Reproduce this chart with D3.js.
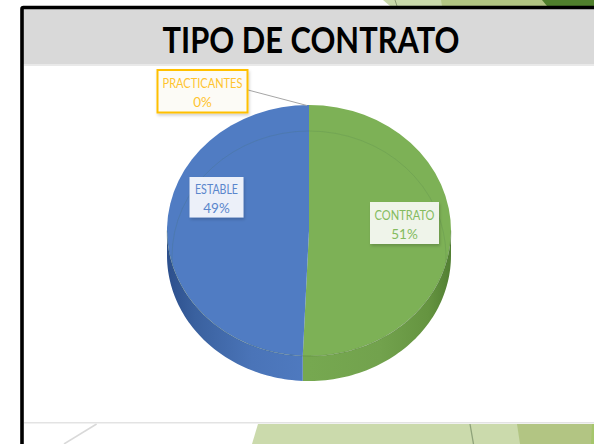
<!DOCTYPE html>
<html>
<head>
<meta charset="utf-8">
<script src="https://cdn.jsdelivr.net/npm/d3@7"></script>
<style>
  html, body { margin: 0; padding: 0; background: #fff; }
  svg { display: block; }
  text { font-family: Lato, "Open Sans", sans-serif; }
</style>
</head>
<body>
<svg id="chart"></svg>
<script>
// values
const categories = ["CONTRATO", "ESTABLE", "PRACTICANTES"];
const shares = [50.7, 49.3, 0];
const chartTitle = "TIPO DE CONTRATO";

const width = 594, height = 444;
const cx = 309, cy = 230.5, rx = 142, ry = 125.5, depth = 25;

const faceColor = d3.scaleOrdinal(categories, ["#7db156", "#507cc3", "#ffc000"]);
const textColor = d3.scaleOrdinal(categories, ["#84bb5e", "#5a86cc", "#ffc42e"]);

let svg = d3.select("#chart").attr("width", width).attr("height", height);
let defs = svg.append("defs");

let shadow = defs.append("filter").attr("id", "boxShadow")
    .attr("x", "-20%").attr("y", "-20%").attr("width", "140%").attr("height", "150%");
shadow.append("feDropShadow").attr("dx", 1).attr("dy", 2).attr("stdDeviation", 1.5)
    .attr("flood-color", "#000").attr("flood-opacity", 0.18);

function sideGradient(id, stops) {
    let g = defs.append("linearGradient").attr("id", id)
        .attr("gradientUnits", "userSpaceOnUse")
        .attr("x1", cx - rx).attr("x2", cx + rx).attr("y1", 0).attr("y2", 0);
    stops.forEach(s => g.append("stop").attr("offset", s[0]).attr("stop-color", s[1]));
}
sideGradient("sideBlue", [[0, "#2c4f8c"], [0.1, "#3a619f"], [0.3, "#4a74b8"], [0.5, "#4f7ac0"]]);
sideGradient("sideGreen", [[0.5, "#76a850"], [0.75, "#72a24d"], [0.92, "#659440"], [1, "#527f33"]]);
const sideFill = { CONTRATO: "url(#sideGreen)", ESTABLE: "url(#sideBlue)", PRACTICANTES: "#d9a300" };

// slide background showing around the chart
const topDeco = [
    { pts: "383,0 390,6 594,6 594,0", fill: "#c9d9ab" },
    { pts: "441,0 442,6 594,6 594,0", fill: "#b2c583" },
    { pts: "542,0 547,6 594,6 594,0", fill: "#4f7f2c" }
];
const bottomDeco = [
    { pts: "258,424 252,444 594,444 594,424", fill: "#cbdaac" },
    { pts: "517,424 520,444 594,444 594,424", fill: "#b2c583" },
    { pts: "592,424 591,444 594,444 594,424", fill: "#a5c66b" }
];
svg.selectAll("polygon.deco").data(topDeco.concat(bottomDeco)).join("polygon")
    .attr("class", "deco")
    .attr("points", d => d.pts)
    .attr("fill", d => d.fill);
svg.append("line").attr("x1", 395).attr("y1", 0).attr("x2", 397).attr("y2", 6)
    .attr("stroke", "#8a9a72").attr("stroke-width", 1);
svg.append("line").attr("x1", 470).attr("y1", 424).attr("x2", 473.5).attr("y2", 444)
    .attr("stroke", "#8fa37a").attr("stroke-width", 1.3);
svg.append("line").attr("x1", 96.6).attr("y1", 424).attr("x2", 64).attr("y2", 444)
    .attr("stroke", "#d9d9d9").attr("stroke-width", 1.5);

// frame and title band
svg.append("rect").attr("x", 22).attr("y", 9).attr("width", width - 22).attr("height", 55).attr("fill", "#d9d9d9");
svg.append("rect").attr("x", 24).attr("y", 64).attr("width", width - 24).attr("height", 2).attr("fill", "#e9e9e9");
svg.append("rect").attr("x", 24).attr("y", 422).attr("width", width - 24).attr("height", 1.5).attr("fill", "#e3e3e3");
svg.append("path").attr("d", "M22,444 V9 Q22,7.5 23.5,7.5 H594")
    .attr("fill", "none").attr("stroke", "#000").attr("stroke-width", 3.6);

svg.append("text").attr("x", 162.5).attr("y", 53)
    .attr("font-size", 37).attr("font-weight", 700).attr("fill", "#000")
    .attr("textLength", 297).attr("lengthAdjust", "spacingAndGlyphs")
    .text(chartTitle);

// pie
const rows = categories.map((c, i) => ({ name: c, value: shares[i] }));
const slices = d3.pie().sort(null).value(d => d.value)(rows);
const arc = d3.arc().innerRadius(0).outerRadius(rx);
const rim = a => [cx + rx * Math.sin(a), cy - ry * Math.cos(a)];

// side wall, only the part of each slice facing the viewer
function wallPath(s) {
    let a0 = Math.max(s.startAngle, Math.PI / 2), a1 = Math.min(s.endAngle, 3 * Math.PI / 2);
    if (a1 <= a0) return null;
    let angles = d3.range(0, 61).map(i => a0 + (a1 - a0) * i / 60);
    let upper = angles.map(rim);
    let lower = angles.slice().reverse().map(a => [rim(a)[0], rim(a)[1] + depth]);
    return d3.line()(upper.concat(lower)) + "Z";
}
svg.append("g").selectAll("path").data(slices).join("path")
    .attr("d", wallPath)
    .attr("fill", d => sideFill[d.data.name]);

let face = svg.append("g")
    .attr("transform", `translate(${cx},${cy}) scale(1,${ry / rx})`);
face.selectAll("path").data(slices).join("path")
    .attr("d", arc)
    .attr("fill", d => faceColor(d.data.name));

// faint rim of the lower face seen through the top
defs.append("clipPath").attr("id", "faceClip").append("ellipse")
    .attr("cx", cx).attr("cy", cy).attr("rx", rx).attr("ry", ry);
svg.append("ellipse").attr("clip-path", "url(#faceClip)")
    .attr("cx", cx).attr("cy", cy + depth + 1).attr("rx", rx - 5).attr("ry", ry)
    .attr("fill", "none").attr("stroke", "#3f6a4f").attr("stroke-opacity", 0.2).attr("stroke-width", 0.8);
svg.append("path")
    .attr("d", d3.line()(d3.range(0, 61).map(i => rim(Math.PI / 2 + Math.PI * i / 60))))
    .attr("fill", "none").attr("stroke", "#35592a").attr("stroke-opacity", 0.3).attr("stroke-width", 0.8);

// leader line for the empty slice
const leaderEnd = rim(slices[2].startAngle);
svg.append("line").attr("x1", 248).attr("y1", 90)
    .attr("x2", cx - 2).attr("y2", leaderEnd[1] + 0.5)
    .attr("stroke", "#a6a6a6").attr("stroke-width", 1);

// data labels
const labelLayout = {
    PRACTICANTES: { x: 157.5, y: 70, w: 90, h: 42.5, nameW: 80, nameY: 88, pctY: 107, fill: "#fcfbf6", stroke: "#ffc000", sw: 2 },
    ESTABLE: { x: 189.5, y: 177, w: 54, h: 40.5, nameW: 43, nameY: 194, pctY: 213, fill: "#ecf0f9", stroke: "none", sw: 0 },
    CONTRATO: { x: 370, y: 202, w: 69, h: 42, nameW: 60, nameY: 220, pctY: 239, fill: "#eff4ea", stroke: "none", sw: 0 }
};
let labels = svg.append("g").selectAll("g").data(slices).join("g");
labels.append("rect")
    .attr("x", d => labelLayout[d.data.name].x)
    .attr("y", d => labelLayout[d.data.name].y)
    .attr("width", d => labelLayout[d.data.name].w)
    .attr("height", d => labelLayout[d.data.name].h)
    .attr("fill", d => labelLayout[d.data.name].fill)
    .attr("stroke", d => labelLayout[d.data.name].stroke)
    .attr("stroke-width", d => labelLayout[d.data.name].sw)
    .attr("filter", "url(#boxShadow)");
labels.append("text")
    .attr("x", d => labelLayout[d.data.name].x + labelLayout[d.data.name].w / 2)
    .attr("y", d => labelLayout[d.data.name].nameY)
    .attr("text-anchor", "middle").attr("font-size", 13.5)
    .attr("fill", d => textColor(d.data.name))
    .attr("textLength", d => labelLayout[d.data.name].nameW)
    .attr("lengthAdjust", "spacingAndGlyphs")
    .text(d => d.data.name);
labels.append("text")
    .attr("x", d => labelLayout[d.data.name].x + labelLayout[d.data.name].w / 2)
    .attr("y", d => labelLayout[d.data.name].pctY)
    .attr("text-anchor", "middle").attr("font-size", 13.5)
    .attr("fill", d => textColor(d.data.name))
    .style("font-variant-numeric", "lining-nums")
    .text(d => Math.round(d.data.value) + "%");
</script>
</body>
</html>
